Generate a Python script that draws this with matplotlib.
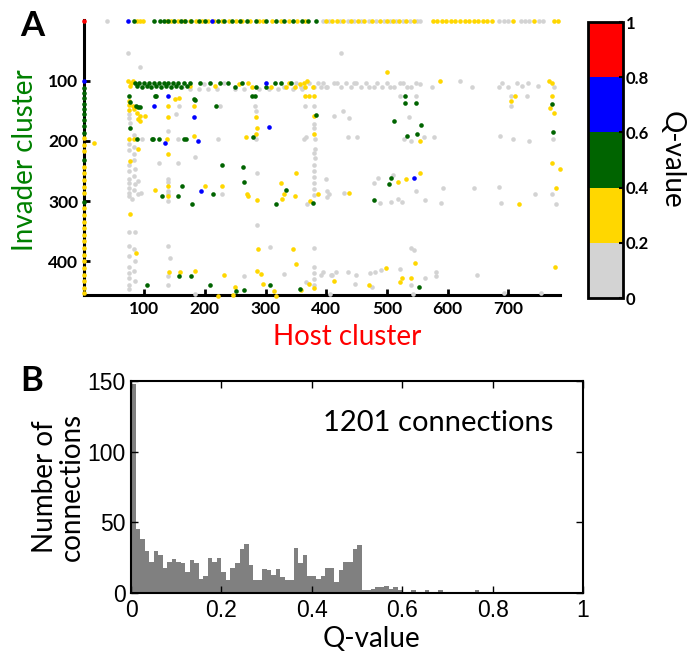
import numpy as np
import matplotlib.pyplot as plt
from matplotlib.colors import ListedColormap, BoundaryNorm
from matplotlib.cm import ScalarMappable

plt.rcParams['font.family'] = ['Lato', 'DejaVu Sans']

# Q-value classes
q_bounds = [0, 0.2, 0.4, 0.6, 0.8, 1.0]
q_colors = ['lightgray', 'gold', 'darkgreen', 'blue', 'red']

# connections to invader cluster 1 (top row), host cluster per class
top_gray = [39, 394, 405, 423, 435, 446, 458, 470, 482, 495, 505, 515, 527, 538, 550, 555,
            685, 692, 699, 720, 727, 734, 750, 757]
top_gold = [88, 93, 98, 137, 145, 155, 165, 175, 185, 195, 205, 215, 228, 240, 252, 262, 275,
            290, 295, 310, 325, 338, 352, 365, 400, 410, 418, 428, 440, 452, 462, 475, 488, 500,
            510, 520, 532, 545, 575, 582, 590, 597, 605, 612, 620, 628, 635, 643, 650, 658, 665,
            673, 708, 742, 775, 782]
top_green = [83, 117, 126, 133, 140, 150, 160, 168, 178, 190, 200, 222, 232, 245, 258, 270, 285,
             300, 318, 330, 345, 360, 370, 383]
top_blue = [74, 211]

# connections from host cluster 1 (left column), invader cluster per class
left_green = [112, 121, 129, 138, 147, 156, 166, 176, 186, 232, 301]
left_gold = [195, 206, 217, 243, 254, 265, 276, 287, 312, 323, 334, 345, 356, 367, 378,
             389, 400, 411, 422, 433, 444, 453]
left_blue = [100]
left_red = [1]

# all other connections as (host, invader)
gray_pts = [
    (74, 54), (93, 77), (425, 54),
    (162, 110), (198, 106), (232, 104), (330, 110), (350, 103), (372, 104), (380, 110),
    (386, 104), (391, 110), (358, 111), (394, 103), (402, 110), (413, 103), (424, 110),
    (432, 103), (440, 110), (449, 103), (457, 110), (465, 103), (479, 110), (484, 103),
    (492, 110), (500, 103), (511, 110), (522, 103), (533, 110), (547, 103), (399, 110),
    (418, 104), (445, 104), (470, 110), (505, 110), (527, 104), (540, 110), (555, 106),
    (574, 111), (621, 100), (640, 111), (684, 110), (689, 104), (700, 110), (714, 103),
    (722, 108), (733, 104), (748, 108), (775, 111),
    (175, 113), (190, 113), (205, 113), (220, 113), (250, 113), (265, 113), (290, 113),
    (305, 113), (320, 113), (345, 113), (360, 113),
    (75, 155), (75, 162), (77, 170), (83, 190), (75, 205), (83, 210), (75, 215), (83, 222),
    (83, 232), (75, 240), (85, 246), (75, 250), (83, 258), (75, 263), (90, 267), (75, 270),
    (85, 272), (75, 278), (83, 282), (75, 286), (95, 286), (90, 288), (75, 292), (80, 296),
    (75, 352), (85, 352), (75, 375), (83, 380), (75, 392), (85, 400), (75, 410), (83, 416),
    (75, 420), (75, 428), (85, 432), (75, 440), (75, 446),
    (139, 183), (139, 264), (140, 268), (140, 283), (139, 289), (140, 300), (140, 375),
    (142, 394), (140, 425), (140, 439),
    (380, 142), (380, 172), (380, 178), (381, 197), (381, 214), (380, 220), (381, 228),
    (380, 240), (380, 250), (380, 260), (380, 270), (380, 280), (380, 290), (380, 378),
    (380, 410), (380, 419), (380, 430), (380, 440),
    (539, 378), (544, 381), (539, 440), (540, 200), (548, 125), (522, 125), (548, 284),
    (536, 160), (528, 197), (561, 194),
    (774, 197), (772, 289), (778, 304),
    (96, 197), (156, 197), (222, 197), (225, 142), (152, 155), (124, 237), (156, 237),
    (184, 227), (286, 254), (286, 340), (307, 377), (228, 289), (264, 425), (331, 421),
    (367, 435), (391, 422), (395, 417), (407, 422), (435, 417), (184, 455), (399, 264),
    (402, 283), (402, 294), (430, 286), (405, 289), (368, 305), (486, 261), (478, 270),
    (510, 257), (488, 303), (507, 301), (518, 297), (524, 301), (563, 298), (589, 303),
    (593, 278), (644, 278), (685, 276), (687, 303), (744, 289), (409, 422), (416, 418),
    (449, 422), (448, 438), (472, 419), (481, 418), (490, 415), (522, 413), (563, 427),
    (580, 418), (580, 425), (648, 422), (475, 442), (692, 452), (753, 453), (406, 455),
    (543, 455), (413, 158), (428, 150), (437, 162), (435, 194), (451, 194), (577, 194),
    (686, 192), (707, 197), (734, 200), (704, 125), (704, 142), (730, 125), (365, 142),
    (364, 197), (367, 194), (282, 142), (158, 142), (285, 197), (285, 150),
]

gold_pts = [
    (74, 100), (78, 104), (82, 100), (76, 108), (175, 108), (216, 108), (257, 106), (271, 103),
    (278, 110), (309, 110), (334, 110), (339, 104), (348, 110), (356, 106), (364, 103),
    (369, 100), (365, 111), (378, 111), (588, 101), (767, 100), (771, 104), (500, 85),
    (365, 125), (372, 125), (380, 125), (157, 128), (82, 142), (84, 147), (88, 153), (93, 158),
    (102, 158), (90, 164), (93, 167), (75, 133), (75, 140), (75, 148), (140, 142), (182, 142),
    (151, 130), (139, 161), (285, 161), (286, 179), (268, 193), (285, 189), (379, 189),
    (380, 158), (84, 197), (75, 197), (182, 192), (137, 196), (554, 200), (704, 134),
    (711, 126), (771, 125), (769, 146), (775, 153), (771, 236), (785, 247), (17, 203),
    (140, 222), (90, 214), (76, 233), (76, 322), (87, 387), (140, 275), (140, 292),
    (118, 282), (200, 275), (228, 275), (271, 292), (286, 298), (270, 289), (325, 270),
    (330, 288), (327, 296), (350, 254), (349, 292), (374, 300), (387, 289), (438, 286),
    (518, 268), (531, 264), (554, 254), (717, 305), (779, 279), (287, 379), (345, 380),
    (350, 405), (141, 418), (159, 418), (184, 416), (232, 422), (286, 416), (292, 421),
    (296, 438), (314, 450), (318, 457), (372, 437), (380, 444), (359, 448), (413, 433),
    (222, 457), (249, 442), (247, 456), (499, 411), (546, 403), (539, 427), (777, 409),
    (470, 439), (521, 435), (525, 427),
]

green_pts = [
    (85, 103), (88, 109), (92, 104), (96, 110), (100, 103), (104, 108), (108, 104),
    (112, 110), (116, 103), (120, 108), (124, 104), (128, 110), (132, 103), (136, 108),
    (140, 104), (144, 110), (148, 103), (152, 108), (156, 104), (160, 110), (165, 103),
    (170, 108), (175, 104), (192, 103), (208, 103), (225, 104), (238, 103), (249, 110),
    (262, 104), (285, 110), (300, 110), (315, 104), (326, 103), (342, 103),
    (75, 125), (76, 136), (93, 143), (76, 178), (87, 142), (90, 143), (88, 197), (115, 197),
    (124, 197), (119, 125), (118, 125), (184, 132), (218, 142), (182, 131), (169, 197),
    (113, 197), (166, 197), (277, 125), (282, 125), (279, 194), (228, 240), (263, 243),
    (264, 268), (162, 275), (130, 292), (155, 292), (179, 305), (213, 289), (334, 282),
    (318, 304), (378, 303), (104, 440), (209, 439), (252, 450), (264, 448), (308, 439),
    (158, 425), (177, 425), (357, 446), (507, 261), (503, 272), (478, 298), (552, 443),
    (529, 125), (529, 137), (548, 137), (511, 167), (556, 174), (533, 192), (550, 189),
    (771, 139), (774, 185), (383, 157),
]

blue_pts = [
    (301, 104), (117, 142), (140, 125), (135, 203), (189, 200), (182, 161), (305, 177),
    (193, 283), (544, 262),
]

# histogram of Q-values, bins of width 0.01 from 0 to 1
q_counts = [148, 45, 38, 30, 22, 30, 27, 18, 22, 24, 22, 21, 15, 23, 21, 10, 12, 25, 22, 25,
            15, 9, 18, 21, 31, 35, 20, 9, 9, 17, 16, 13, 17, 11, 9, 9, 32, 21, 27, 12,
            12, 10, 12, 18, 18, 8, 16, 22, 22, 31, 34, 2, 2, 3, 4, 4, 5, 3, 4, 2,
            1, 1, 2, 1, 0, 2, 0, 1, 2, 0, 1, 1, 1, 1, 0, 1, 2, 0, 0, 0,
            0, 0, 0, 0, 0, 0, 0, 0, 0, 0, 0, 0, 0, 0, 0, 0, 0, 0, 0, 1]
n_connections = 1201

groups = [
    ([(x, 1) for x in top_gray] + gray_pts, q_colors[0]),
    ([(x, 1) for x in top_gold] + [(1, y) for y in left_gold] + gold_pts, q_colors[1]),
    ([(x, 1) for x in top_green] + [(1, y) for y in left_green] + green_pts, q_colors[2]),
    ([(x, 1) for x in top_blue] + [(1, y) for y in left_blue] + blue_pts, q_colors[3]),
    ([(1, y) for y in left_red], q_colors[4]),
]

fig = plt.figure(figsize=(6.87, 6.51), dpi=100)

# --- A: host/invader connection map ---
ax1 = fig.add_axes([0.1223, 0.5469, 0.6929, 0.4224])
for pts, col in groups:
    pts = np.array(pts)
    ax1.scatter(pts[:, 0], pts[:, 1], s=11, c=col, linewidths=0, zorder=3, clip_on=False)
ax1.set_xlim(1, 785)
ax1.set_ylim(456, -1)
for side in ['top', 'right']:
    ax1.spines[side].set_visible(False)
for side in ['left', 'bottom']:
    ax1.spines[side].set_linewidth(2.2)
ax1.set_xticks([100, 200, 300, 400, 500, 600, 700])
ax1.set_yticks([100, 200, 300, 400])
ax1.tick_params(direction='in', length=4, width=2, labelsize=12.5, pad=4)
for lab in ax1.get_xticklabels() + ax1.get_yticklabels():
    lab.set_fontweight('bold')
ax1.set_xlabel('Host cluster', color='red', fontsize=20, va='center')
ax1.xaxis.set_label_coords(0.553, -0.153)
ax1.set_ylabel('Invader cluster', color='green', fontsize=20, va='center')
ax1.yaxis.set_label_coords(-0.124, 0.49)
fig.text(0.03, 0.985, 'A', fontsize=25, fontweight='bold', va='top')

# colour bar for the Q-value classes
cax = fig.add_axes([0.8559, 0.5422, 0.0509, 0.424])
sm = ScalarMappable(norm=BoundaryNorm(q_bounds, len(q_colors)), cmap=ListedColormap(q_colors))
cb = fig.colorbar(sm, cax=cax, ticks=q_bounds)
cb.ax.set_yticklabels(['0', '0.2', '0.4', '0.6', '0.8', '1'], fontweight='bold')
cb.ax.tick_params(direction='in', length=3, width=1.5, labelsize=12, pad=2)
cb.outline.set_linewidth(2)
cb.set_label('Q-value', fontsize=20, rotation=270, labelpad=26)

# --- B: distribution of Q-values ---
ax2 = fig.add_axes([0.1907, 0.0891, 0.658, 0.3257])
bin_left = np.arange(len(q_counts)) * 0.01
ax2.bar(bin_left, q_counts, width=0.01, align='edge', color='#808080', linewidth=0)
ax2.set_xlim(0, 1)
ax2.set_ylim(0, 150)
ax2.set_xticks([0, 0.2, 0.4, 0.6, 0.8, 1])
ax2.set_xticklabels(['0', '0.2', '0.4', '0.6', '0.8', '1'])
ax2.set_yticks([0, 50, 100, 150])
ax2.tick_params(direction='in', length=5, width=1, top=True, right=True,
                labelsize=16.5, pad=4)
for lab in ax2.get_xticklabels() + ax2.get_yticklabels():
    lab.set_family('Liberation Sans')
for side in ax2.spines.values():
    side.set_linewidth(1.5)
ax2.set_xlabel('Q-value', fontsize=20, va='center')
ax2.xaxis.set_label_coords(0.531, -0.215)
ax2.set_ylabel('Number of\nconnections', fontsize=20, labelpad=2, linespacing=1.0)
ax2.text(0.679, 0.8, f'{n_connections} connections', transform=ax2.transAxes,
         fontsize=21, ha='center', va='center')
fig.text(0.03, 0.44, 'B', fontsize=25, fontweight='bold', va='top')

fig.savefig('out.png', dpi=100)
